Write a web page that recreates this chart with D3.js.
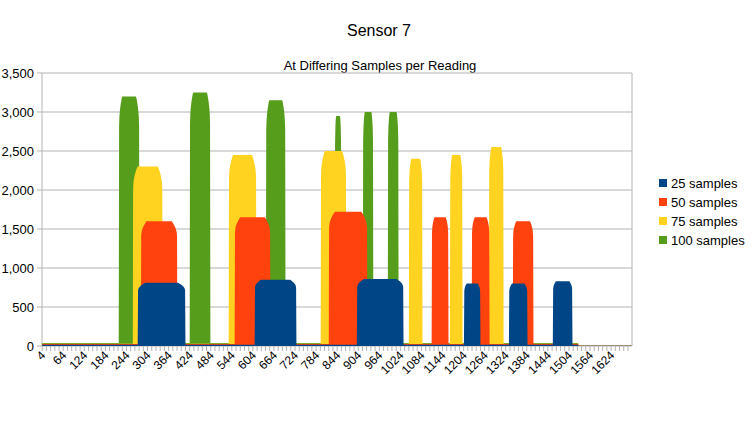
<!DOCTYPE html>
<html><head><meta charset="utf-8">
<script src="https://cdn.jsdelivr.net/npm/d3@7"></script>
<style>body{margin:0;background:#fff}text{font-family:"Liberation Sans",Arial,sans-serif}</style>
</head><body><svg id="c" width="756" height="425"></svg>
<script>
// readings run from 4 to 1683
const firstReading = 4, lastReading = 1683;
const seriesNames = ["25 samples", "50 samples", "75 samples", "100 samples"];
const seriesColors = ["#004586", "#ff420e", "#ffd320", "#579d1c"];
// pulses: [start, end, peak]
const pulses25 = [[277, 411, 810], [610, 727, 850], [901, 1032, 860], [1206, 1251, 800], [1334, 1385, 800], [1459, 1513, 830]];
const pulses50 = [[286, 388, 1600], [553, 653, 1650], [821, 929, 1720], [1114, 1160, 1650], [1228, 1277, 1650], [1345, 1402, 1600]];
const pulses75 = [[263, 346, 2300], [536, 613, 2450], [798, 869, 2500], [1049, 1086, 2400], [1166, 1200, 2450], [1277, 1317, 2550]];
const pulses100 = [[223, 280, 3200], [425, 482, 3250], [642, 696, 3150], [838, 855, 2950], [918, 946, 3000], [989, 1018, 3000]];
const baseline = [15, 25, 30, 40];
const yTicks = [0, 500, 1000, 1500, 2000, 2500, 3000, 3500];

const allPulses = [pulses25, pulses50, pulses75, pulses100];
const readings = d3.range(firstReading, lastReading + 1);
const series = allPulses.map((ps, i) => readings.map(r => {
  const p = ps.find(q => r >= q[0] && r <= q[1]);
  if (!p) return [r, r > 1530 ? 3 : baseline[i]];
  const t = (r - p[0]) / (p[1] - p[0]);
  const edge = Math.min(1, Math.min(t, 1 - t) / 0.15);
  return [r, p[2] * (0.88 + 0.12 * Math.sqrt(edge))];
}));

const svg = d3.select("#c");
const L = 42, R = 632, T = 73, B = 346;
const x = d3.scaleLinear().domain([firstReading - 0.5, lastReading + 0.5]).range([L, R]);
const y = d3.scaleLinear().domain([0, 3500]).range([B, T]);

svg.append("text").attr("x", 379).attr("y", 36).attr("text-anchor", "middle").attr("font-size", 16).text("Sensor 7");
svg.append("text").attr("x", 380).attr("y", 70).attr("text-anchor", "middle").attr("font-size", 13).text("At Differing Samples per Reading");

// grid + y labels
yTicks.forEach(v => {
  svg.append("line").attr("x1", L - 5).attr("x2", R).attr("y1", y(v)).attr("y2", y(v)).attr("stroke", "#b3b3b3");
  svg.append("text").attr("x", L - 8).attr("y", y(v) + 4.5).attr("text-anchor", "end").attr("font-size", 13).text(d3.format(",")(v));
});
svg.append("line").attr("x1", L).attr("x2", L).attr("y1", T).attr("y2", B).attr("stroke", "#b3b3b3");
svg.append("line").attr("x1", R).attr("x2", R).attr("y1", T).attr("y2", B).attr("stroke", "#b3b3b3");

const area = d3.area().x(d => x(d[0])).y0(B).y1(d => y(d[1]));
[3, 2, 1, 0].forEach(i => {
  svg.append("path").datum(series[i]).attr("d", area).attr("fill", seriesColors[i]);
});

// x ticks + labels
const xt = svg.append("g");
for (let r = firstReading; r <= lastReading; r += 12) {
  xt.append("line").attr("x1", x(r)).attr("x2", x(r)).attr("y1", B).attr("y2", B + 5).attr("stroke", "#b3b3b3");
}
for (let r = firstReading; r <= lastReading; r += 60) {
  xt.append("text").attr("transform", `translate(${x(r) + 4},${B + 10}) rotate(-45)`)
    .attr("text-anchor", "end").attr("font-size", 12).text(r);
}

// legend
seriesNames.forEach((n, i) => {
  const g = svg.append("g").attr("transform", `translate(659,${179 + i * 19})`);
  g.append("rect").attr("width", 8).attr("height", 8).attr("fill", seriesColors[i]);
  g.append("text").attr("x", 12).attr("y", 9).attr("font-size", 13).text(n);
});
</script></body></html>
